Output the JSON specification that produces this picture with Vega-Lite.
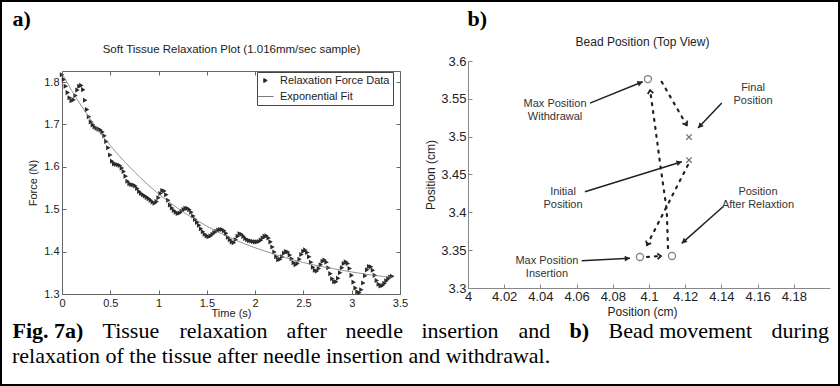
{
  "$schema": "https://vega.github.io/schema/vega-lite/v6.json",
  "width": 840,
  "height": 386,
  "autosize": {"type": "none"},
  "padding": 0,
  "background": "white",
  "title": {"text": "relaxation of the tissue after needle insertion and withdrawal.", "orient": "bottom", "anchor": "start", "frame": "group",
    "offset": -23, "dx": 12, "baseline": "alphabetic", "font": "Liberation Serif", "fontSize": 22, "fontWeight": "normal", "color": "#000000"},
  "datasets": {
    "force": [
      {"t":0.00,"f":1.817},{"t":0.02,"f":1.806},{"t":0.04,"f":1.790},{"t":0.06,"f":1.775},{"t":0.08,"f":1.763},
      {"t":0.10,"f":1.756},{"t":0.12,"f":1.758},{"t":0.14,"f":1.768},{"t":0.16,"f":1.781},{"t":0.18,"f":1.790},
      {"t":0.20,"f":1.792},{"t":0.22,"f":1.782},{"t":0.24,"f":1.757},{"t":0.26,"f":1.735},{"t":0.28,"f":1.718},
      {"t":0.30,"f":1.706},{"t":0.32,"f":1.699},{"t":0.34,"f":1.694},{"t":0.36,"f":1.691},{"t":0.38,"f":1.689},
      {"t":0.40,"f":1.687},{"t":0.42,"f":1.682},{"t":0.44,"f":1.673},{"t":0.46,"f":1.660},{"t":0.48,"f":1.645},
      {"t":0.50,"f":1.628},{"t":0.52,"f":1.613},{"t":0.54,"f":1.607},{"t":0.56,"f":1.606},{"t":0.58,"f":1.605},
      {"t":0.60,"f":1.603},{"t":0.62,"f":1.597},{"t":0.64,"f":1.589},{"t":0.66,"f":1.578},{"t":0.68,"f":1.566},
      {"t":0.70,"f":1.560},{"t":0.72,"f":1.558},{"t":0.74,"f":1.557},{"t":0.76,"f":1.555},{"t":0.78,"f":1.549},
      {"t":0.80,"f":1.542},{"t":0.82,"f":1.537},{"t":0.84,"f":1.534},{"t":0.86,"f":1.531},{"t":0.88,"f":1.528},
      {"t":0.90,"f":1.525},{"t":0.92,"f":1.521},{"t":0.94,"f":1.517},{"t":0.96,"f":1.514},{"t":0.98,"f":1.518},
      {"t":1.00,"f":1.527},{"t":1.02,"f":1.537},{"t":1.04,"f":1.544},{"t":1.06,"f":1.543},{"t":1.08,"f":1.534},
      {"t":1.10,"f":1.521},{"t":1.12,"f":1.510},{"t":1.14,"f":1.503},{"t":1.16,"f":1.497},{"t":1.18,"f":1.493},
      {"t":1.20,"f":1.490},{"t":1.22,"f":1.491},{"t":1.24,"f":1.495},{"t":1.26,"f":1.499},{"t":1.28,"f":1.502},
      {"t":1.30,"f":1.502},{"t":1.32,"f":1.499},{"t":1.34,"f":1.493},{"t":1.36,"f":1.484},{"t":1.38,"f":1.476},
      {"t":1.40,"f":1.469},{"t":1.42,"f":1.462},{"t":1.44,"f":1.454},{"t":1.46,"f":1.447},{"t":1.48,"f":1.441},
      {"t":1.50,"f":1.437},{"t":1.52,"f":1.435},{"t":1.54,"f":1.437},{"t":1.56,"f":1.441},{"t":1.58,"f":1.445},
      {"t":1.60,"f":1.448},{"t":1.62,"f":1.451},{"t":1.64,"f":1.452},{"t":1.66,"f":1.452},{"t":1.68,"f":1.449},
      {"t":1.70,"f":1.443},{"t":1.72,"f":1.434},{"t":1.74,"f":1.428},{"t":1.76,"f":1.423},{"t":1.78,"f":1.421},
      {"t":1.80,"f":1.428},{"t":1.82,"f":1.436},{"t":1.84,"f":1.442},{"t":1.86,"f":1.441},{"t":1.88,"f":1.436},
      {"t":1.90,"f":1.431},{"t":1.92,"f":1.428},{"t":1.94,"f":1.426},{"t":1.96,"f":1.425},{"t":1.98,"f":1.424},
      {"t":2.00,"f":1.423},{"t":2.02,"f":1.423},{"t":2.04,"f":1.424},{"t":2.06,"f":1.427},{"t":2.08,"f":1.432},
      {"t":2.10,"f":1.436},{"t":2.12,"f":1.437},{"t":2.14,"f":1.432},{"t":2.16,"f":1.423},{"t":2.18,"f":1.411},
      {"t":2.20,"f":1.399},{"t":2.22,"f":1.388},{"t":2.24,"f":1.381},{"t":2.26,"f":1.382},{"t":2.28,"f":1.388},
      {"t":2.30,"f":1.396},{"t":2.32,"f":1.400},{"t":2.34,"f":1.399},{"t":2.36,"f":1.392},{"t":2.38,"f":1.383},
      {"t":2.40,"f":1.374},{"t":2.42,"f":1.369},{"t":2.44,"f":1.372},{"t":2.46,"f":1.382},{"t":2.48,"f":1.393},
      {"t":2.50,"f":1.401},{"t":2.52,"f":1.404},{"t":2.54,"f":1.398},{"t":2.56,"f":1.388},{"t":2.58,"f":1.375},
      {"t":2.60,"f":1.363},{"t":2.62,"f":1.356},{"t":2.64,"f":1.354},{"t":2.66,"f":1.360},{"t":2.68,"f":1.369},
      {"t":2.70,"f":1.377},{"t":2.72,"f":1.380},{"t":2.74,"f":1.375},{"t":2.76,"f":1.362},{"t":2.78,"f":1.348},
      {"t":2.80,"f":1.336},{"t":2.82,"f":1.329},{"t":2.84,"f":1.329},{"t":2.86,"f":1.337},{"t":2.88,"f":1.350},
      {"t":2.90,"f":1.362},{"t":2.92,"f":1.372},{"t":2.94,"f":1.376},{"t":2.96,"f":1.372},{"t":2.98,"f":1.360},
      {"t":3.00,"f":1.344},{"t":3.02,"f":1.328},{"t":3.04,"f":1.314},{"t":3.06,"f":1.305},{"t":3.08,"f":1.303},
      {"t":3.10,"f":1.310},{"t":3.12,"f":1.326},{"t":3.14,"f":1.343},{"t":3.16,"f":1.357},{"t":3.18,"f":1.365},
      {"t":3.20,"f":1.364},{"t":3.22,"f":1.356},{"t":3.24,"f":1.344},{"t":3.26,"f":1.332},{"t":3.28,"f":1.323},
      {"t":3.30,"f":1.319},{"t":3.32,"f":1.320},{"t":3.34,"f":1.325},{"t":3.36,"f":1.331},{"t":3.38,"f":1.336},
      {"t":3.40,"f":1.340},{"t":3.42,"f":1.342}
    ],
    "fit": [
      {"t":0.0,"f":1.820},{"t":0.1,"f":1.780},{"t":0.2,"f":1.744},{"t":0.3,"f":1.710},{"t":0.4,"f":1.679},
      {"t":0.6,"f":1.624},{"t":0.8,"f":1.577},{"t":1.0,"f":1.536},{"t":1.2,"f":1.502},{"t":1.4,"f":1.473},
      {"t":1.6,"f":1.448},{"t":1.8,"f":1.427},{"t":2.0,"f":1.409},{"t":2.2,"f":1.394},{"t":2.4,"f":1.380},
      {"t":2.6,"f":1.369},{"t":2.8,"f":1.360},{"t":3.0,"f":1.352},{"t":3.2,"f":1.345},{"t":3.42,"f":1.339}
    ],
    "circles": [
      {"name":"Max Position Withdrawal","x":4.0994,"y":3.5761},
      {"name":"Max Position Insertion","x":4.0950,"y":3.3410},
      {"name":"Position After Relaxtion","x":4.1127,"y":3.3423}
    ],
    "crosses": [
      {"name":"Final Position","x":4.1221,"y":3.4995},
      {"name":"Initial Position","x":4.1221,"y":3.4691}
    ],
    "paths": [
      {"path":"A","seq":1,"x":4.1215,"y":3.4625},{"path":"A","seq":2,"x":4.0989,"y":3.3568},
      {"path":"B","seq":1,"x":4.1105,"y":3.3528},{"path":"B","seq":2,"x":4.1098,"y":3.4030},
      {"path":"B","seq":3,"x":4.1061,"y":3.4651},{"path":"B","seq":4,"x":4.1033,"y":3.5153},
      {"path":"B","seq":5,"x":4.1006,"y":3.5616},
      {"path":"C","seq":1,"x":4.0989,"y":3.3410},{"path":"C","seq":2,"x":4.1066,"y":3.3423},
      {"path":"D","seq":1,"x":4.1070,"y":3.5725},{"path":"D","seq":2,"x":4.1208,"y":3.5153}
    ],
    "heads": [
      {"path":"A","x":4.1215,"y":3.4625,"x2":4.0989,"y2":3.3568},
      {"path":"B","x":4.1033,"y":3.5153,"x2":4.1006,"y2":3.5616},
      {"path":"C","x":4.0989,"y":3.3410,"x2":4.1066,"y2":3.3423},
      {"path":"D","x":4.1070,"y":3.5725,"x2":4.1208,"y2":3.5153}
    ],
    "pointers": [
      {"note":"Max Position Withdrawal","x":4.0674,"y":3.5444,"x2":4.0965,"y2":3.5725},
      {"note":"Final Position","x":4.1402,"y":3.5444,"x2":4.1271,"y2":3.5114},
      {"note":"Initial Position","x":4.0646,"y":3.4272,"x2":4.1181,"y2":3.4668},
      {"note":"Position After Relaxtion","x":4.1409,"y":3.4074,"x2":4.1181,"y2":3.3590},
      {"note":"Max Position Insertion","x":4.0628,"y":3.3361,"x2":4.0895,"y2":3.3392}
    ],
    "notes": [
      {"label":"Max Position\nWithdrawal","x":4.0481,"y":3.5431},
      {"label":"Final\nPosition","x":4.1575,"y":3.5642},
      {"label":"Initial\nPosition","x":4.0525,"y":3.4268},
      {"label":"Position\nAfter Relaxtion","x":4.1602,"y":3.4268},
      {"label":"Max Position\nInsertion","x":4.0436,"y":3.3357}
    ]
  },
  "layer": [
    {
      "data": {"name": "force"},
      "mark": {"type": "point", "shape": "triangle-right", "filled": true, "size": 26, "opacity": 1},
      "encoding": {
        "x": {"field": "t", "type": "quantitative",
          "scale": {"domain": [0, 3.5], "range": [62, 400], "nice": false, "zero": false},
          "axis": {"orient": "bottom", "offset": -92, "values": [0,0.5,1,1.5,2,2.5,3,3.5],
            "labelExpr": "format(datum.value,'~g')", "tickSize": -4, "labelPadding": 7, "labelFlush": false,
            "title": "Time (s)", "titlePadding": -1}},
        "y": {"field": "f", "type": "quantitative",
          "scale": {"domain": [1.3, 1.826], "range": [294, 71], "nice": false, "zero": false},
          "axis": {"orient": "left", "offset": -62, "values": [1.3,1.4,1.5,1.6,1.7,1.8],
            "labelExpr": "format(datum.value,'~g')", "tickSize": -4, "labelPadding": 7, "labelFlush": false,
            "title": "Force (N)", "titlePadding": 5}},
        "color": {"datum": "Relaxation Force Data", "type": "nominal",
          "scale": {"domain": ["Relaxation Force Data", "Exponential Fit"], "range": ["#2b2b2b", "#7a7a7a"]},
          "legend": {"orient": "none", "legendX": 257, "legendY": 72, "title": null,
            "strokeColor": "#444444", "fillColor": "#ffffff", "padding": 3, "rowPadding": 4,
            "labelFont": "Liberation Sans", "labelFontSize": 11, "labelColor": "#222222",
            "symbolSize": 100, "labelOffset": 9,
            "encode": {"symbols": {"update": {
              "shape": {"signal": "datum.value === 'Exponential Fit' ? 'stroke' : 'triangle-right'"},
              "size": {"signal": "datum.value === 'Exponential Fit' ? 256 : 16"},
              "fill": {"signal": "datum.value === 'Exponential Fit' ? 'transparent' : '#333333'"},
              "stroke": {"signal": "datum.value === 'Exponential Fit' ? '#666666' : 'transparent'"},
              "strokeWidth": {"value": 1},
              "opacity": {"value": 1}
            }}}}}
      }
    },
    {
      "data": {"name": "fit"},
      "mark": {"type": "line", "strokeWidth": 0.8, "interpolate": "monotone"},
      "encoding": {
        "x": {"field": "t", "type": "quantitative",
          "scale": {"domain": [0, 3.5], "range": [62, 400], "nice": false, "zero": false},
          "axis": {"orient": "top", "offset": -71, "values": [0,0.5,1,1.5,2,2.5,3,3.5], "labels": false,
            "tickSize": -4, "title": "Soft Tissue Relaxation Plot (1.016mm/sec sample)", "titlePadding": 16, "titleFontSize": 11.5}},
        "y": {"field": "f", "type": "quantitative",
          "scale": {"domain": [1.3, 1.826], "range": [294, 71], "nice": false, "zero": false},
          "axis": {"orient": "right", "offset": -440, "values": [1.3,1.4,1.5,1.6,1.7,1.8], "labels": false,
            "tickSize": -4,
            "title": "during", "titleX": 371, "titleY": 337, "titleAngle": 0, "titleAlign": "left", "titleBaseline": "alphabetic",
            "titleFont": "Liberation Serif", "titleFontSize": 22, "titleFontWeight": "normal", "titleColor": "#000000"}},
        "color": {"datum": "Exponential Fit", "type": "nominal",
          "legend": {"orient": "none", "legendX": 257, "legendY": 72, "title": null,
            "strokeColor": "#444444", "fillColor": "#ffffff", "padding": 3, "rowPadding": 4,
            "labelFont": "Liberation Sans", "labelFontSize": 11, "labelColor": "#222222",
            "symbolSize": 100, "labelOffset": 9,
            "encode": {"symbols": {"update": {
              "shape": {"signal": "datum.value === 'Exponential Fit' ? 'stroke' : 'triangle-right'"},
              "size": {"signal": "datum.value === 'Exponential Fit' ? 256 : 16"},
              "fill": {"signal": "datum.value === 'Exponential Fit' ? 'transparent' : '#333333'"},
              "stroke": {"signal": "datum.value === 'Exponential Fit' ? '#666666' : 'transparent'"},
              "strokeWidth": {"value": 1},
              "opacity": {"value": 1}
            }}}}}
      }
    },
    {
      "data": {"name": "circles"},
      "mark": {"type": "point", "shape": "circle", "filled": false, "size": 50, "strokeWidth": 1.3, "color": "#8c7b72", "opacity": 1},
      "encoding": {
        "x": {"field": "x", "type": "quantitative",
          "scale": {"domain": [4, 4.2], "range": [468, 830], "nice": false, "zero": false},
          "axis": {"orient": "bottom", "offset": -98, "values": [4,4.02,4.04,4.06,4.08,4.1,4.12,4.14,4.16,4.18],
            "labelExpr": "format(datum.value,'~g')", "tickSize": -4, "labelPadding": 6, "labelFlush": false,
            "labelFontSize": 13, "titleFontSize": 12, "title": "Position (cm)", "titleX": 642, "titlePadding": 3, "domainColor": "#888888", "tickColor": "#888888"}},
        "y": {"field": "y", "type": "quantitative",
          "scale": {"domain": [3.3, 3.6], "range": [288, 61], "nice": false, "zero": false},
          "axis": {"orient": "left", "offset": -468, "values": [3.3,3.35,3.4,3.45,3.5,3.55,3.6],
            "labelExpr": "format(datum.value,'~g')", "tickSize": -4, "labelPadding": 6, "labelFlush": false,
            "labelFontSize": 13, "titleFontSize": 12, "title": "Position (cm)", "titlePadding": 3, "domainColor": "#888888", "tickColor": "#888888"}}
      }
    },
    {
      "data": {"name": "crosses"},
      "mark": {"type": "point", "shape": "M-1,-1L1,1M-1,1L1,-1", "filled": false, "size": 30, "strokeWidth": 1.2, "color": "#6e6e6e", "opacity": 1},
      "encoding": {
        "x": {"field": "x", "type": "quantitative",
          "scale": {"domain": [4, 4.2], "range": [468, 830], "nice": false, "zero": false},
          "axis": {"orient": "top", "offset": 0, "domain": false, "ticks": false, "labels": false,
            "title": "a)", "titleX": 12, "titleY": 25, "titleAngle": 0, "titleAlign": "left", "titleBaseline": "alphabetic",
            "titleFont": "Liberation Serif", "titleFontSize": 22, "titleFontWeight": "bold", "titleColor": "#000000"}},
        "y": {"field": "y", "type": "quantitative",
          "scale": {"domain": [3.3, 3.6], "range": [288, 61], "nice": false, "zero": false},
          "axis": {"orient": "left", "offset": 0, "domain": false, "ticks": false, "labels": false,
            "title": "b)", "titleX": 467, "titleY": 25, "titleAngle": 0, "titleAlign": "left", "titleBaseline": "alphabetic",
            "titleFont": "Liberation Serif", "titleFontSize": 22, "titleFontWeight": "bold", "titleColor": "#000000"}}
      }
    },
    {
      "data": {"name": "paths"},
      "mark": {"type": "line", "strokeDash": [2, 6], "strokeCap": "round", "strokeWidth": 2.2, "color": "#222222"},
      "encoding": {
        "x": {"field": "x", "type": "quantitative",
          "scale": {"domain": [4, 4.2], "range": [468, 830], "nice": false, "zero": false},
          "axis": {"orient": "top", "offset": -61, "domain": false, "ticks": false, "labels": false,
            "title": "Bead Position (Top View)", "titleX": 642, "titlePadding": 13, "titleFontSize": 12}},
        "y": {"field": "y", "type": "quantitative",
          "scale": {"domain": [3.3, 3.6], "range": [288, 61], "nice": false, "zero": false},
          "axis": {"orient": "left", "offset": 0, "domain": false, "ticks": false, "labels": false,
            "title": "Fig. 7a)", "titleX": 12, "titleY": 337, "titleAngle": 0, "titleAlign": "left", "titleBaseline": "alphabetic",
            "titleFont": "Liberation Serif", "titleFontSize": 22, "titleFontWeight": "bold", "titleColor": "#000000"}},
        "detail": {"field": "path", "type": "nominal"},
        "order": {"field": "seq", "type": "quantitative"}
      }
    },
    {
      "data": {"name": "pointers"},
      "mark": {"type": "rule", "strokeWidth": 1.5, "color": "#222222"},
      "encoding": {
        "x": {"field": "x", "type": "quantitative",
          "scale": {"domain": [4, 4.2], "range": [468, 830], "nice": false, "zero": false},
          "axis": {"orient": "top", "offset": 0, "domain": false, "ticks": false, "labels": false,
            "title": "Tissue", "titleX": 102, "titleY": 337, "titleAngle": 0, "titleAlign": "left", "titleBaseline": "alphabetic",
            "titleFont": "Liberation Serif", "titleFontSize": 22, "titleFontWeight": "normal", "titleColor": "#000000"}},
        "y": {"field": "y", "type": "quantitative",
          "scale": {"domain": [3.3, 3.6], "range": [288, 61], "nice": false, "zero": false},
          "axis": {"orient": "left", "offset": 0, "domain": false, "ticks": false, "labels": false,
            "title": "relaxation", "titleX": 179, "titleY": 337, "titleAngle": 0, "titleAlign": "left", "titleBaseline": "alphabetic",
            "titleFont": "Liberation Serif", "titleFontSize": 22, "titleFontWeight": "normal", "titleColor": "#000000"}},
        "x2": {"field": "x2"},
        "y2": {"field": "y2"}
      }
    },
    {
      "data": {"name": "pointers"},
      "transform": [{"calculate": "atan2(-(datum.y2 - datum.y) * 757, (datum.x2 - datum.x) * 1810) * 180 / PI", "as": "heading"}],
      "mark": {"type": "point", "shape": "M-1,-0.55L0,0L-1,0.55Z", "filled": true, "size": 110, "color": "#222222", "opacity": 1},
      "encoding": {
        "x": {"field": "x2", "type": "quantitative",
          "scale": {"domain": [4, 4.2], "range": [468, 830], "nice": false, "zero": false},
          "axis": {"orient": "top", "offset": 0, "domain": false, "ticks": false, "labels": false,
            "title": "after", "titleX": 286, "titleY": 337, "titleAngle": 0, "titleAlign": "left", "titleBaseline": "alphabetic",
            "titleFont": "Liberation Serif", "titleFontSize": 22, "titleFontWeight": "normal", "titleColor": "#000000"}},
        "y": {"field": "y2", "type": "quantitative",
          "scale": {"domain": [3.3, 3.6], "range": [288, 61], "nice": false, "zero": false},
          "axis": {"orient": "left", "offset": 0, "domain": false, "ticks": false, "labels": false,
            "title": "needle", "titleX": 345, "titleY": 337, "titleAngle": 0, "titleAlign": "left", "titleBaseline": "alphabetic",
            "titleFont": "Liberation Serif", "titleFontSize": 22, "titleFontWeight": "normal", "titleColor": "#000000"}},
        "angle": {"field": "heading", "type": "quantitative", "scale": null}
      }
    },
    {
      "data": {"name": "heads"},
      "transform": [{"calculate": "atan2(-(datum.y2 - datum.y) * 757, (datum.x2 - datum.x) * 1810) * 180 / PI", "as": "heading"}],
      "mark": {"type": "point", "shape": "M-1,-0.8L0,0L-1,0.8", "filled": false, "size": 50, "strokeWidth": 1.8, "color": "#222222", "opacity": 1},
      "encoding": {
        "x": {"field": "x2", "type": "quantitative",
          "scale": {"domain": [4, 4.2], "range": [468, 830], "nice": false, "zero": false},
          "axis": {"orient": "top", "offset": 0, "domain": false, "ticks": false, "labels": false,
            "title": "insertion", "titleX": 421, "titleY": 337, "titleAngle": 0, "titleAlign": "left", "titleBaseline": "alphabetic",
            "titleFont": "Liberation Serif", "titleFontSize": 22, "titleFontWeight": "normal", "titleColor": "#000000"}},
        "y": {"field": "y2", "type": "quantitative",
          "scale": {"domain": [3.3, 3.6], "range": [288, 61], "nice": false, "zero": false},
          "axis": {"orient": "left", "offset": 0, "domain": false, "ticks": false, "labels": false,
            "title": "and", "titleX": 518, "titleY": 337, "titleAngle": 0, "titleAlign": "left", "titleBaseline": "alphabetic",
            "titleFont": "Liberation Serif", "titleFontSize": 22, "titleFontWeight": "normal", "titleColor": "#000000"}},
        "angle": {"field": "heading", "type": "quantitative", "scale": null}
      }
    },
    {
      "data": {"name": "notes"},
      "mark": {"type": "text", "lineBreak": "\n", "align": "center", "baseline": "middle", "font": "Liberation Sans", "fontSize": 11, "lineHeight": 13, "color": "#333333"},
      "encoding": {
        "x": {"field": "x", "type": "quantitative",
          "scale": {"domain": [4, 4.2], "range": [468, 830], "nice": false, "zero": false},
          "axis": {"orient": "top", "offset": 0, "domain": false, "ticks": false, "labels": false,
            "title": "b)", "titleX": 569, "titleY": 337, "titleAngle": 0, "titleAlign": "left", "titleBaseline": "alphabetic",
            "titleFont": "Liberation Serif", "titleFontSize": 22, "titleFontWeight": "bold", "titleColor": "#000000"}},
        "y": {"field": "y", "type": "quantitative",
          "scale": {"domain": [3.3, 3.6], "range": [288, 61], "nice": false, "zero": false},
          "axis": {"orient": "left", "offset": 0, "domain": false, "ticks": false, "labels": false,
            "title": "Bead movement", "titleX": 608, "titleY": 337, "titleAngle": 0, "titleAlign": "left", "titleBaseline": "alphabetic",
            "titleFont": "Liberation Serif", "titleFontSize": 22, "titleFontWeight": "normal", "titleColor": "#000000"}},
        "text": {"field": "label", "type": "nominal"}
      }
    }
  ],
  "resolve": {"scale": {"x": "independent", "y": "independent"}, "axis": {"x": "independent", "y": "independent"}},
  "config": {
    "view": {"stroke": "#000000", "strokeWidth": 4},
    "font": "Liberation Sans",
    "axis": {"grid": false, "labelFont": "Liberation Sans", "titleFont": "Liberation Sans", "labelFontSize": 11, "titleFontSize": 11,
      "titleFontWeight": "normal", "labelColor": "#222222", "titleColor": "#222222", "domainColor": "#666666", "tickColor": "#666666"}
  }
}
